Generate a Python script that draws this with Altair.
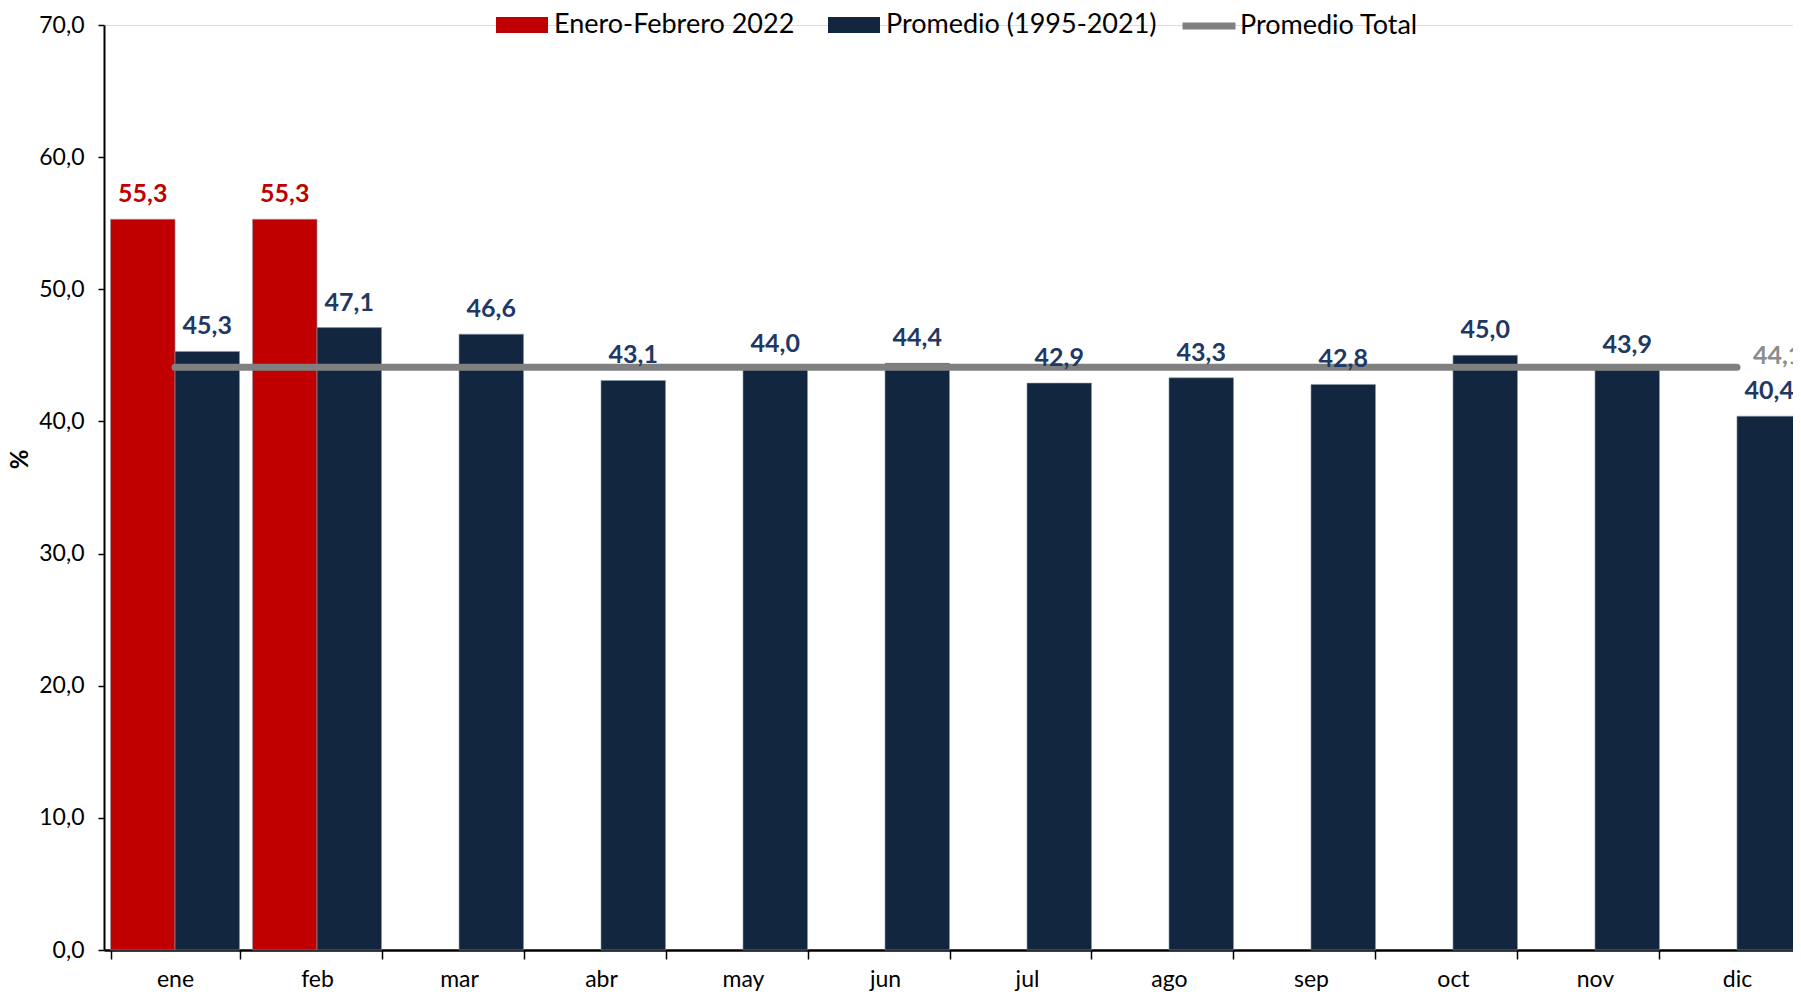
import altair as alt
import pandas as pd

# ---- data ----
months = ["ene", "feb", "mar", "abr", "may", "jun", "jul", "ago", "sep", "oct", "nov", "dic"]
serie_2022 = "Enero-Febrero 2022"
serie_prom = "Promedio (1995-2021)"
serie_total = "Promedio Total"
valores_2022 = [55.3, 55.3]  # ene, feb
valores_promedio = [45.3, 47.1, 46.6, 43.1, 44.0, 44.4, 42.9, 43.3, 42.8, 45.0, 43.9, 40.4]
promedio_total = 44.1
y_ticks = [0, 10, 20, 30, 40, 50, 60, 70]

RED = "#C00000"
NAVY = "#12263F"
NAVY_TXT = "#1F3864"
GRAY = "#808080"
FONT = "Lato"

rows = []
for m, v in zip(months, valores_2022):
    rows.append({"mes": m, "serie": serie_2022, "valor": v})
for m, v in zip(months, valores_promedio):
    rows.append({"mes": m, "serie": serie_prom, "valor": v})
bars_df = pd.DataFrame(rows)
line_df = pd.DataFrame({"mes": months, "serie": serie_total, "valor": promedio_total})
end_df = line_df.tail(1)

fmt = "replace(format(datum.valor, '.1f'), '.', ',')"

x_enc = alt.X(
    "mes:N",
    sort=months,
    scale=alt.Scale(paddingInner=0.0915, paddingOuter=0.046, range=[0, 1704]),
    axis=alt.Axis(
        title=None, labelAngle=0, labelFontSize=23, labelColor="black",
        labelPadding=9, tickBand="extent", tickSize=9, tickWidth=1.5,
        tickColor="black", domainColor="black", domainWidth=2.5, grid=False,
        labelFont=FONT,
    ),
)
y_enc = alt.Y(
    "valor:Q",
    scale=alt.Scale(domain=[0, 70], nice=False),
    axis=alt.Axis(
        values=y_ticks, labelExpr="replace(format(datum.value, '.1f'), '.', ',')",
        labelFontSize=23, labelColor="black", labelPadding=14, tickSize=6,
        tickWidth=1.5, tickColor="black", domainColor="black", domainWidth=2,
        grid=False, title="%", titleFontSize=24, titleFontWeight="bold",
        titleColor="black", titleX=-84, titleY=434, titleBaseline="middle",
        labelFont=FONT, titleFont=FONT,
    ),
)
xoff = alt.XOffset("serie:N", scale=alt.Scale(domain=[serie_2022, serie_prom], paddingInner=0, paddingOuter=0))

bars = alt.Chart(bars_df).mark_bar(stroke="#8A99AD", strokeWidth=0.6).encode(
    x=x_enc,
    xOffset=xoff,
    y=y_enc,
    fill=alt.Fill(
        "serie:N",
        scale=alt.Scale(domain=[serie_2022, serie_prom], range=[RED, NAVY]),
        legend=alt.Legend(
            title=None, orient="none", direction="horizontal", legendX=392, legendY=-26,
            symbolType="M-1,-0.31L1,-0.31L1,0.31L-1,0.31Z", symbolSize=2704,
            symbolStrokeWidth=0, labelFontSize=27, labelFont=FONT, labelColor="black",
            labelOffset=6, columnPadding=33, padding=0, labelLimit=400,
        ),
    ),
)

labels = alt.Chart(bars_df).transform_calculate(lab=fmt).mark_text(
    fontSize=25, fontWeight="bold", baseline="middle", dy=-25, font=FONT
).encode(
    x=alt.X("mes:N", sort=months),
    xOffset=xoff,
    y="valor:Q",
    text="lab:N",
    color=alt.Color("serie:N", scale=alt.Scale(domain=[serie_2022, serie_prom], range=[RED, NAVY_TXT]), legend=None),
)

line = alt.Chart(line_df).mark_line(strokeWidth=7, strokeCap="round").encode(
    x=alt.X("mes:N", sort=months),
    y="valor:Q",
    stroke=alt.Stroke(
        "serie:N",
        scale=alt.Scale(domain=[serie_total], range=[GRAY]),
        legend=alt.Legend(
            title=None, orient="none", direction="horizontal", legendX=1075, legendY=-29,
            symbolType="stroke", symbolSize=2809, symbolStrokeWidth=7,
            labelFontSize=27, labelFont=FONT, labelColor="black", labelOffset=1,
            padding=0, labelLimit=400,
        ),
    ),
)

end_label = alt.Chart(end_df).transform_calculate(lab=fmt).mark_text(
    fontSize=25, fontWeight="bold", align="left", baseline="middle", dx=16, dy=-11,
    color="#8C8C8C", font=FONT,
).encode(x=alt.X("mes:N", sort=months), y="valor:Q", text="lab:N")

chart = alt.layer(bars, line, labels, end_label).properties(
    width=1689, height=925,
    padding={"left": 96, "top": 17, "right": 0, "bottom": 42},
    autosize=alt.AutoSizeParams(type="none"),
).configure_view(stroke=None).configure(font=FONT)

chart.save("out.html", embed_options={"renderer": "svg", "actions": False})
